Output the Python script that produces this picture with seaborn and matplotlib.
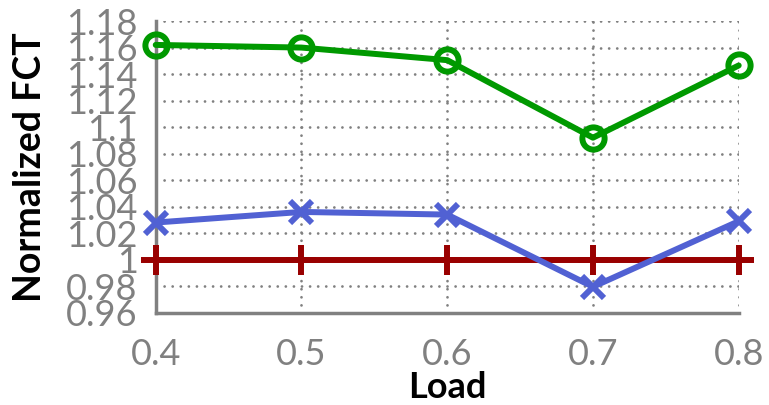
import matplotlib
matplotlib.use("Agg")
import matplotlib.pyplot as plt
import seaborn as sns
import pandas as pd

loads = [0.4, 0.5, 0.6, 0.7, 0.8]
green_vals = [1.162, 1.160, 1.1505, 1.092, 1.1465]
blue_vals = [1.028, 1.036, 1.034, 0.9795, 1.029]
red_vals = [1.0, 1.0, 1.0, 1.0, 1.0]
yticks = [0.96, 0.98, 1.0, 1.02, 1.04, 1.06, 1.08, 1.1, 1.12, 1.14, 1.16, 1.18]
ytick_labels = ["0.96", "0.98", "1", "1.02", "1.04", "1.06", "1.08", "1.1", "1.12", "1.14", "1.16", "1.18"]
xtick_labels = ["0.4", "0.5", "0.6", "0.7", "0.8"]

sns.set_style("white")
plt.rcParams['font.family'] = ['Lato', 'DejaVu Sans']
plt.rcParams['lines.dash_capstyle'] = 'round'
plt.rcParams['lines.solid_capstyle'] = 'round'
plt.rcParams['lines.solid_joinstyle'] = 'round'

fig = plt.figure(figsize=(7.69, 4.05), dpi=100)
ax = fig.add_axes([0.2025, 0.228, 0.7581, 0.720])

gray = "#808080"
red = "#990000"
blue = "#5161d3"
green = "#009900"

df_green = pd.DataFrame({"load": loads, "v": green_vals})
df_blue = pd.DataFrame({"load": loads, "v": blue_vals})
df_red = pd.DataFrame({"load": loads, "v": red_vals})

sns.lineplot(data=df_red, x="load", y="v", ax=ax, color=red, linewidth=4.3,
             marker="+", markersize=22, markeredgewidth=4.3, markeredgecolor=red,
             clip_on=False, zorder=3)
sns.lineplot(data=df_blue, x="load", y="v", ax=ax, color=blue, linewidth=4.3,
             marker="x", markersize=16, markeredgewidth=4.3, markeredgecolor=blue,
             clip_on=False, zorder=4)
sns.lineplot(data=df_green, x="load", y="v", ax=ax, color=green, linewidth=4.3,
             marker="o", markersize=16, markerfacecolor="none", markeredgewidth=4.3,
             markeredgecolor=green, clip_on=False, zorder=5)

ax.set_xlim(0.4, 0.8)
ax.set_ylim(0.96, 1.18)
ax.set_xticks(loads)
ax.set_xticklabels(xtick_labels)
ax.set_yticks(yticks)
ax.set_yticklabels(ytick_labels)

ax.grid(True, linestyle=(0, (0.01, 2.9)), color="#808080", linewidth=2.0)
ax.set_axisbelow(True)

for s in ["top", "right"]:
    ax.spines[s].set_visible(False)
for s in ["left", "bottom"]:
    ax.spines[s].set_color(gray)
    ax.spines[s].set_linewidth(2.5)

ax.tick_params(axis="both", direction="in", length=13, width=2.5, color=gray,
               labelcolor=gray, labelsize=26)
ax.tick_params(axis="y", pad=13)
ax.tick_params(axis="x", pad=18)

ax.set_xlabel("Load", fontsize=26, fontweight="bold", color="black", labelpad=0)
ax.set_ylabel("Normalized FCT", fontsize=27, fontweight="bold", color="black", labelpad=14)

fig.savefig("out.png", dpi=100)
